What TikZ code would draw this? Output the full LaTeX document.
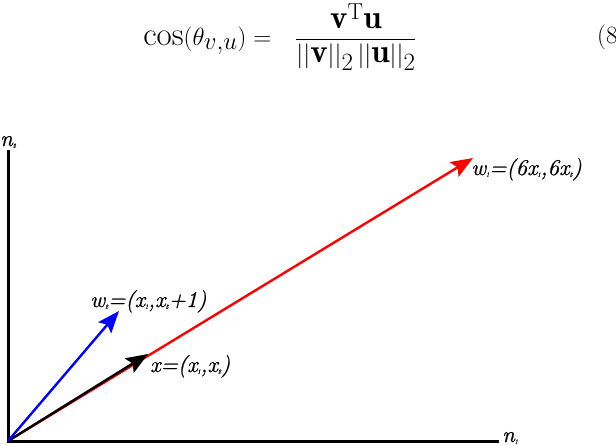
\documentclass[tikz,border=0pt]{standalone}
\usepackage{fontspec}
\usetikzlibrary{arrows.meta}
\newfontfamily\lblfont{lmroman10-italic.otf}[FakeBold=0.6]
\newcommand\sbx[1]{\raisebox{-1.5pt}{\fontsize{6}{6}\selectfont #1}}
\begin{document}
\begin{tikzpicture}[x=1pt,y=-1pt,
  lab/.style={font=\lblfont\fontsize{22.5}{26}\selectfont, inner sep=0pt, anchor=base west},
  vec/.style={line width=2.4pt, -{Stealth[length=22pt,width=17pt,inset=4pt]}},
  axisline/.style={line width=3pt}]
\useasboundingbox (0,0) rectangle (616,446);
\clip (0,0) rectangle (616,446);
\node[inner sep=0pt, font=\fontsize{33}{38}\selectfont] (eq) at (280,37)
  {$\displaystyle \cos(\theta_{v,u}) =\hspace{17pt} \frac{\mathbf{v}^{\mathrm{T}}\mathbf{u}}{||\mathbf{v}||_2\,||\mathbf{u}||_2}$};
\node[inner sep=0pt, anchor=west, font=\fontsize{33}{38}\selectfont] (eqn) at (597,37) {$(8)$};
\coordinate (O) at (8,441);
\coordinate (N2) at (8,150);
\coordinate (N1) at (499,441);
\coordinate (W1) at (473,158);
\coordinate (X) at (148,354);
\coordinate (W2) at (119,311);
\draw[axisline] (N2) -- (O) -- (N1);
\draw[vec, red] (O) -- (W1);
\draw[vec, black] (O) -- (X);
\draw[vec, blue] (O) -- (W2);
\node[lab] (n2) at (0,146) {n\sbx{2}};
\node[lab] (n1) at (502,442) {n\sbx{1}};
\node[lab] (w1) at (471,175) {w\sbx{1}=(6x\sbx{1},6x\sbx{2})};
\node[lab] (w2) at (90,307) {w\sbx{2}=(x\sbx{1},x\sbx{2}+1)};
\node[lab] (x) at (150,372) {x=(x\sbx{1},x\sbx{2})};
\end{tikzpicture}
\end{document}
